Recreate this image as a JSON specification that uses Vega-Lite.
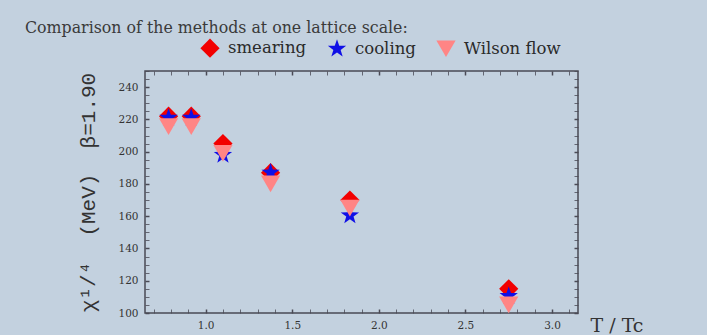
{
  "$schema": "https://vega.github.io/schema/vega-lite/v6.json",
  "width": 433,
  "height": 242,
  "autosize": {"type": "none"},
  "padding": {"left": 145, "top": 71, "right": 129, "bottom": 22},
  "background": "#c3d1df",
  "title": {
    "text": "Comparison of the methods at one lattice scale:",
    "anchor": "start",
    "frame": "group",
    "dx": -120,
    "offset": 1,
    "font": "DejaVu Serif",
    "fontSize": 15.8,
    "fontWeight": "normal",
    "color": "#3a3a3a"
  },
  "config": {
    "view": {"stroke": "#4a4a55", "strokeWidth": 1.5},
    "axis": {
      "domain": false,
      "grid": false,
      "tickColor": "#4a4a55",
      "labelColor": "#333333",
      "labelFont": "DejaVu Serif",
      "labelFontSize": 10.5,
      "titleColor": "#333333"
    }
  },
  "data": {
    "values": [
      {"T": 0.786, "chi": 222, "method": "smearing"},
      {"T": 0.917, "chi": 222, "method": "smearing"},
      {"T": 1.1, "chi": 205, "method": "smearing"},
      {"T": 1.375, "chi": 187, "method": "smearing"},
      {"T": 1.833, "chi": 170, "method": "smearing"},
      {"T": 2.75, "chi": 115, "method": "smearing"},
      {"T": 0.786, "chi": 221, "method": "cooling"},
      {"T": 0.917, "chi": 221, "method": "cooling"},
      {"T": 1.1, "chi": 198, "method": "cooling"},
      {"T": 1.375, "chi": 187, "method": "cooling"},
      {"T": 1.833, "chi": 160.5, "method": "cooling"},
      {"T": 2.75, "chi": 110.5, "method": "cooling"},
      {"T": 0.786, "chi": 215.5, "method": "Wilson flow"},
      {"T": 0.917, "chi": 215.5, "method": "Wilson flow"},
      {"T": 1.1, "chi": 199, "method": "Wilson flow"},
      {"T": 1.375, "chi": 180, "method": "Wilson flow"},
      {"T": 1.833, "chi": 165, "method": "Wilson flow"},
      {"T": 2.75, "chi": 105, "method": "Wilson flow"}
    ]
  },
  "layer": [
    {
      "mark": {"type": "point", "filled": true, "opacity": 1, "size": 370},
      "encoding": {
        "x": {
          "field": "T", "type": "quantitative",
          "scale": {"domain": [0.65, 3.15], "nice": false, "zero": false},
          "axis": {
            "orient": "bottom",
            "values": [0.7,0.8,0.9,1.0,1.1,1.2,1.3,1.4,1.5,1.6,1.7,1.8,1.9,2.0,2.1,2.2,2.3,2.4,2.5,2.6,2.7,2.8,2.9,3.0,3.1],
            "tickSize": -4,
            "tickWidth": {"condition": {"test": "abs(datum.value*2 - round(datum.value*2)) < 0.000001", "value": 1.5}, "value": 0.8},
            "labelPadding": 11,
            "labelExpr": "abs(datum.value*2 - round(datum.value*2)) < 0.000001 ? format(datum.value, '.1f') : ''",
            "title": "T / Tc",
            "titleFont": "DejaVu Serif",
            "titleFontSize": 19,
            "titleFontWeight": "normal",
            "titleAnchor": "start",
            "titleAlign": "left",
            "titleBaseline": "alphabetic",
            "titleX": 445,
            "titleY": 18
          }
        },
        "y": {
          "field": "chi", "type": "quantitative",
          "scale": {"domain": [100, 250], "nice": false, "zero": false},
          "axis": {
            "orient": "left",
            "values": [100,105,110,115,120,125,130,135,140,145,150,155,160,165,170,175,180,185,190,195,200,205,210,215,220,225,230,235,240,245,250],
            "tickSize": -4,
            "tickWidth": {"condition": {"test": "datum.value % 20 === 0", "value": 1.5}, "value": 0.8},
            "labelPadding": 11,
            "labelExpr": "datum.value % 20 === 0 && datum.value < 250 ? format(datum.value, 'd') : ''",
            "title": "χ¹/⁴\u00a0\u00a0(MeV)\u00a0\u00a0β=1.90",
            "titleFont": "Liberation Mono",
            "titleFontSize": 21,
            "titleFontWeight": "normal",
            "titleX": -57,
            "titleY": 121,
            "titleAlign": "center",
            "titleBaseline": "middle",
            "titleAngle": -90
          }
        },
        "shape": {
          "field": "method", "type": "nominal",
          "scale": {
            "domain": ["smearing", "cooling", "Wilson flow"],
            "range": ["diamond", "M0,-1L0.235,-0.324L0.951,-0.309L0.380,0.124L0.588,0.809L0,0.4L-0.588,0.809L-0.380,0.124L-0.951,-0.309L-0.235,-0.324Z", "triangle-down"]
          },
          "legend": {
            "title": null,
            "orient": "none",
            "direction": "horizontal",
            "legendX": 55,
            "legendY": -33,
            "padding": 0,
            "symbolSize": 370,
            "labelFont": "DejaVu Serif",
            "labelFontSize": 16.5,
            "labelColor": "#2a2a2a",
            "labelOffset": 8,
            "columnPadding": 20,
            "symbolStrokeWidth": 0
          }
        },
        "color": {
          "field": "method", "type": "nominal",
          "scale": {
            "domain": ["smearing", "cooling", "Wilson flow"],
            "range": ["#f20000", "#1010e6", "#ff8585"]
          },
          "legend": {
            "title": null,
            "orient": "none",
            "direction": "horizontal",
            "legendX": 55,
            "legendY": -33,
            "padding": 0,
            "symbolSize": 370,
            "labelFont": "DejaVu Serif",
            "labelFontSize": 16.5,
            "labelColor": "#2a2a2a",
            "labelOffset": 8,
            "columnPadding": 20,
            "symbolStrokeWidth": 0
          }
        }
      }
    },
    {
      "mark": {"type": "point", "opacity": 0},
      "encoding": {
        "x": {
          "field": "T", "type": "quantitative",
          "axis": {
            "orient": "top",
            "values": [0.7,0.8,0.9,1.0,1.1,1.2,1.3,1.4,1.5,1.6,1.7,1.8,1.9,2.0,2.1,2.2,2.3,2.4,2.5,2.6,2.7,2.8,2.9,3.0,3.1],
            "tickSize": -4,
            "tickWidth": {"condition": {"test": "abs(datum.value*2 - round(datum.value*2)) < 0.000001", "value": 1.5}, "value": 0.8},
            "labels": false,
            "title": null
          }
        },
        "y": {
          "field": "chi", "type": "quantitative",
          "axis": {
            "orient": "right",
            "values": [100,105,110,115,120,125,130,135,140,145,150,155,160,165,170,175,180,185,190,195,200,205,210,215,220,225,230,235,240,245,250],
            "tickSize": -4,
            "tickWidth": {"condition": {"test": "datum.value % 20 === 0", "value": 1.5}, "value": 0.8},
            "labels": false,
            "title": null
          }
        }
      }
    }
  ],
  "resolve": {"axis": {"x": "independent", "y": "independent"}}
}
